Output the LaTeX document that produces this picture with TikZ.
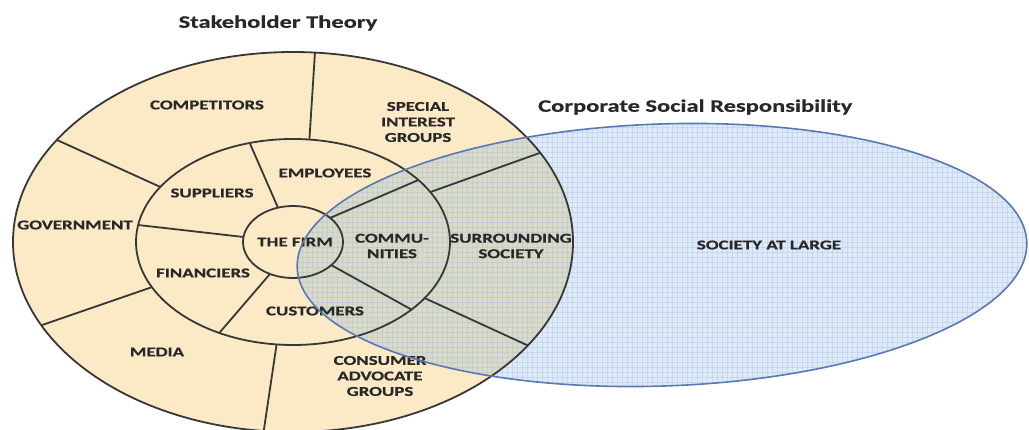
\documentclass[tikz,border=0pt]{standalone}
\usepackage{fontspec}
\setmainfont{Carlito}[FakeStretch=1.4, BoldFeatures={FakeBold=0.6}]
\usetikzlibrary{calc}

\definecolor{ringfill}{RGB}{252,233,198}
\definecolor{csrfill}{RGB}{222,234,248}
\definecolor{overlapfill}{RGB}{218,218,200}
\definecolor{ringline}{RGB}{55,55,55}
\definecolor{csrline}{RGB}{88,120,182}
\definecolor{gridblue}{RGB}{150,180,222}
\definecolor{labeltext}{RGB}{40,40,40}

\tikzset{
  ringedge/.style={draw=ringline, line width=1.8pt},
  lbl/.style={inner sep=0pt, align=center, text=labeltext,
    font=\fontsize{13.5}{15.5}\selectfont\bfseries},
  ttl/.style={inner sep=0pt, text=labeltext,
    font=\fontsize{17.5}{20}\selectfont\bfseries},
  csrshape/.style={rotate around={2:(662,255)}},
}

\begin{document}
\begin{tikzpicture}[x=1pt,y=-1pt]
  \useasboundingbox (0,0) rectangle (1029,430);

  % centre shared by the three stakeholder rings
  \coordinate (c) at (293,242);
  \coordinate (csrc) at (662,255);

  % CSR ellipse fill
  \fill[csrfill, csrshape] (csrc) ellipse [x radius=365, y radius=131];

  % stakeholder rings fill
  \fill[ringfill] (c) ellipse [x radius=280, y radius=190];

  % overlap of the two domains, with the fine grid texture of the CSR field
  \begin{scope}
    \clip[csrshape] (csrc) ellipse [x radius=365, y radius=131];
    \fill[overlapfill] (c) ellipse [x radius=280, y radius=190];
    \foreach \gx in {297,302,...,1027}
      \draw[gridblue, line width=0.4pt, opacity=0.28] (\gx,110) -- (\gx,400);
    \foreach \gy in {112,117,...,400}
      \draw[gridblue, line width=0.4pt, opacity=0.28] (295,\gy) -- (1029,\gy);
  \end{scope}

  % ring outlines
  \draw[ringedge] (c) ellipse [x radius=280, y radius=190];
  \draw[ringedge] (c) ellipse [x radius=157, y radius=103];
  \draw[ringedge] (c) ellipse [x radius=50, y radius=36];

  % dividers of the outer ring (middle ellipse -> outer ellipse)
  \foreach \ta/\tb in {84/85.5, 147.7/147.5, 206/206, 264/264, 29/28, -33/-33}
    \draw[ringedge] ({293+157*cos(\ta)},{242-103*sin(\ta)})
                 -- ({293+280*cos(\tb)},{242-190*sin(\tb)});

  % dividers of the middle ring (inner ellipse -> middle ellipse)
  \foreach \ta/\tb in {107.5/106, 172/170.5, 242.6/242, 42/37, -40/-41}
    \draw[ringedge] ({293+50*cos(\ta)},{242-36*sin(\ta)})
                 -- ({293+157*cos(\tb)},{242-103*sin(\tb)});

  % stakeholder labels
  \node[lbl] (competitors) at (207,105) {COMPETITORS};
  \node[lbl] (special)     at (418,122) {SPECIAL\\INTEREST\\GROUPS};
  \node[lbl] (employees)   at (325,173) {EMPLOYEES};
  \node[lbl] (suppliers)   at (212,193) {SUPPLIERS};
  \node[lbl] (government)  at (75,225)  {GOVERNMENT};
  \node[lbl] (firm)        at (295,242) {THE FIRM};
  \node[lbl] (communities) at (392,246) {COMMU-\\NITIES};
  \node[lbl] (surrounding) at (511,246) {SURROUNDING\\SOCIETY};
  \node[lbl] (financiers)  at (203,273) {FINANCIERS};
  \node[lbl] (customers)   at (315,311) {CUSTOMERS};
  \node[lbl] (media)       at (157,352) {MEDIA};
  \node[lbl] (consumer)    at (380,376) {CONSUMER\\ADVOCATE\\GROUPS};

  % CSR outline and label
  \draw[csrline, line width=1.6pt, csrshape] (csrc) ellipse [x radius=365, y radius=131];
  \node[lbl] (society) at (769,245) {SOCIETY AT LARGE};

  % titles
  \node[ttl] (stakeholder) at (278,23) {Stakeholder Theory};
  \node[ttl, anchor=west] (csr) at (538,107) {Corporate Social Responsibility};
\end{tikzpicture}
\end{document}
